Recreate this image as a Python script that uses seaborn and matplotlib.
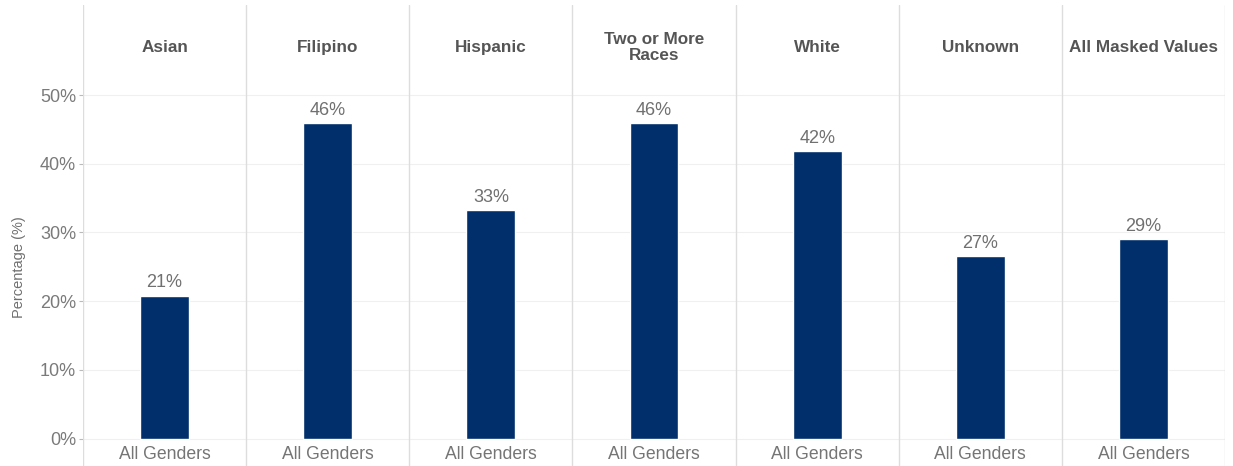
import pandas as pd
import matplotlib.pyplot as plt
import seaborn as sns

# dati
gruppi = ['Asian', 'Filipino', 'Hispanic', 'Two or More\nRaces', 'White', 'Unknown', 'All Masked Values']
valori = [20.8, 45.9, 33.2, 45.9, 41.9, 26.6, 29.0]
etichette = ['21%', '46%', '33%', '46%', '42%', '27%', '29%']
genere = 'All Genders'
yticks = [0, 10, 20, 30, 40, 50]

df = pd.DataFrame({'Gruppo': gruppi, 'Percentuale': valori})

sns.set_style('white')
plt.rcParams['font.family'] = ['Liberation Sans', 'DejaVu Sans']

fig = plt.figure(figsize=(12.33, 4.66), dpi=100)
ax = fig.add_axes([83 / 1233, 0, (1225 - 83) / 1233, 1 - 5 / 466])

sns.barplot(data=df, x='Gruppo', y='Percentuale', color='#002f6c', width=0.3,
            saturation=1, ax=ax)

ax.set_ylim(-4.0, 63.1)
ax.set_xlim(-0.5, len(gruppi) - 0.5)
ax.set_yticks(yticks)
ax.set_yticklabels([f'{t}%' for t in yticks], color='#7a7a7a', fontsize=13)
ax.tick_params(axis='y', length=3, color='#bbbbbb', pad=2, left=True)
for t in yticks:
    ax.axhline(t, color='#f0f0f0', lw=0.8, zorder=0)

ax.set_xticks([])
ax.set_xlabel('')
ax.set_ylabel('Percentage (%)', color='#707070', fontsize=10.5)
ax.yaxis.set_label_coords(-0.05, (25 + 4.0) / 67.1)

for s in ax.spines.values():
    s.set_visible(False)

# separatori tra i pannelli
for i in range(len(gruppi) + 1):
    ax.axvline(i - 0.5, color='#dddddd', lw=1, zorder=1)

# etichette valori, intestazioni e "All Genders"
for i, (g, v, e) in enumerate(zip(gruppi, valori, etichette)):
    ax.text(i, v + 0.6, e, ha='center', va='bottom', fontsize=13, color='#707070')
    ax.text(i, 56.9, g, ha='center', va='center', fontsize=12.3, fontweight='bold',
            color='#555555', linespacing=1.05)
    ax.text(i, -2.3, genere, ha='center', va='center', fontsize=12.7, color='#757575')

fig.savefig('out.png', dpi=100)
